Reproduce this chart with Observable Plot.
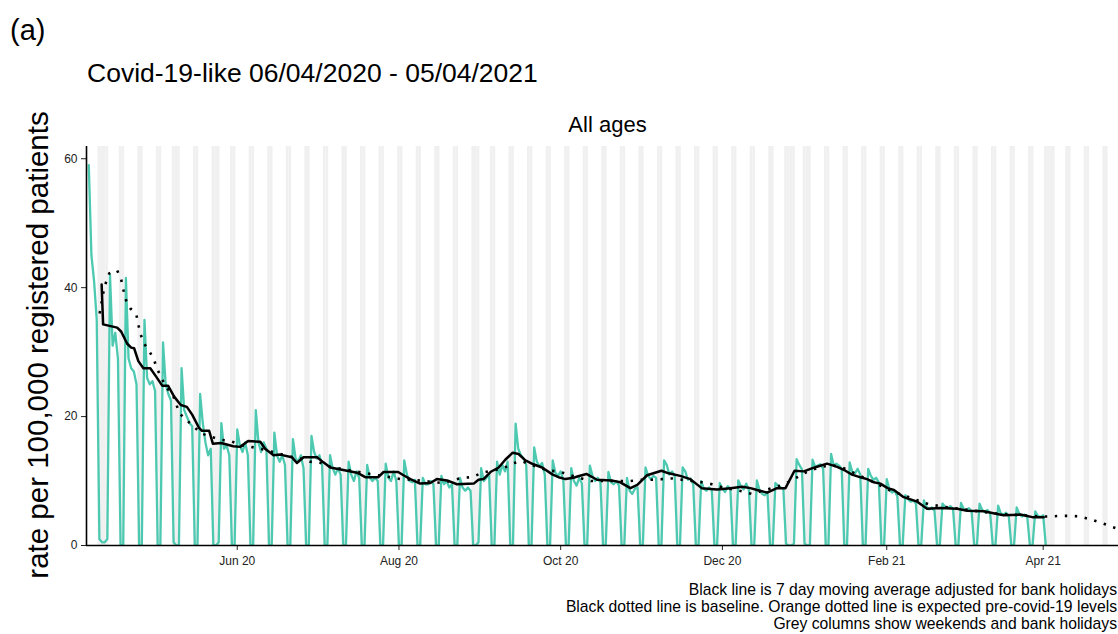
<!DOCTYPE html>
<html>
<head>
<meta charset="utf-8">
<script src="https://cdn.jsdelivr.net/npm/d3@7"></script>
<script src="https://cdn.jsdelivr.net/npm/@observablehq/plot@0.6"></script>
<style>
html,body{margin:0;padding:0;background:#fff;overflow:hidden;}
#wrap{position:relative;width:1118px;height:634px;overflow:hidden;font-family:"Liberation Sans",Arial,sans-serif;color:#000;background:#fff;}
.abs{position:absolute;white-space:nowrap;line-height:1;}
#chart{left:0;top:0;}
#tag{left:10px;top:16px;font-size:29px;}
#title{left:87px;top:60px;font-size:26.5px;}
#strip{left:607.5px;top:125px;font-size:22px;transform:translate(-50%,-50%);}
#ylab{left:38px;top:345px;font-size:29.5px;transform:translate(-50%,-50%) rotate(-90deg);}
#cap{right:1px;top:581px;font-size:15.7px;line-height:17px;text-align:right;}
</style>
</head>
<body>
<div id="wrap">
  <div id="chart" class="abs"></div>
  <div id="tag" class="abs">(a)</div>
  <div id="title" class="abs">Covid-19-like 06/04/2020 - 05/04/2021</div>
  <div id="strip" class="abs">All ages</div>
  <div id="ylab" class="abs">rate per 100,000 registered patients</div>
  <div id="cap" class="abs">Black line is 7 day moving average adjusted for bank holidays<br>Black dotted line is baseline. Orange dotted line is expected pre-covid-19 levels<br>Grey columns show weekends and bank holidays</div>
</div>
<script>
// ---- data -------------------------------------------------------------
const seriesStart = "2020-04-06"; // first day of the daily series (Monday)

// daily rate per 100,000 (Mon..Sun each row), 06/04/2020 - 02/04/2021
const dailyRate = [
  59,45,41,35,1,0.5,0.5,        // Apr 6
  1,42,31,33,29,0,0,            // Apr 13
  41.5,29,27.5,27,25,0,0,       // Apr 20
  35,26,25,25.5,24,0,0,         // Apr 27
  31.5,25,23.5,22.5,0.5,0,0,    // May 4
  27.5,21,20,19,18.5,0,0,       // May 11
  23.5,19,16,14,15,0,0,         // May 18
  0.5,19,15,15.5,14,0,0,        // May 25
  18,15.5,14.5,16,14,0,0,       // Jun 1
  21,16,14.5,16,15,0,0,         // Jun 8
  17.5,14,13,14,12.5,0,0,       // Jun 15
  16.5,13.5,13,14,12,0,0,       // Jun 22
  17,14.5,13.5,14,12.5,0,0,     // Jun 29
  14,12,11,12,11,0,0,           // Jul 6
  13,11,10,11.5,10.5,0,0,       // Jul 13
  12.5,10.5,10,10.5,10,0,0,     // Jul 20
  12.7,10.5,10,11.5,10,0,0,     // Jul 27
  13.2,11,10,9.8,10.2,0,0,      // Aug 3
  10.5,9.5,9.5,10,9.5,0,0,      // Aug 10
  10.8,9.5,10,9,9.5,0,0,        // Aug 17
  10.5,9,8.5,9,8.5,0,0,         // Aug 24
  0.5,12,10,10.5,11,0,0,        // Aug 31
  13,11,12.5,11.5,13,0,0,       // Sep 7
  18.9,15,14,13.5,12.5,0,0,     // Sep 14
  15.2,13,12.3,12.8,11,0,0,     // Sep 21
  13.2,11.3,10.8,11.5,10.2,0,0, // Sep 28
  12,10,9.3,10.5,9.6,0,0,       // Oct 5
  12.4,10.8,10,10.5,9.8,0,0,    // Oct 12
  11.4,9.8,9.5,10,9.3,0,0,      // Oct 19
  10.5,8.5,8,8.8,9,0,0,         // Oct 26
  12.1,10.8,10.3,10.8,10.5,0,0, // Nov 2
  13.2,12.5,11,11.5,10.8,0,0,   // Nov 9
  12.1,11.5,10.2,10.4,9.5,0,0,  // Nov 16
  10,8.8,8.5,9,8.6,0,0,         // Nov 23
  9.7,8.8,8.3,9.2,8.8,0,0,      // Nov 30
  10.1,9.2,8.7,9.6,8.6,0,0,     // Dec 7
  10.1,8.6,8,7.8,8.3,0,0,       // Dec 14
  9.7,9.3,9,8.8,0.3,0,0,        // Dec 21
  0.3,13.4,12.5,11.8,0.3,0,0,   // Dec 28
  13.3,12.2,12.4,12.6,11.9,0,0, // Jan 4
  14.2,12.4,12.7,12.4,11.9,0,0, // Jan 11
  12.9,11.4,11.2,11.9,11,0,0,   // Jan 18
  11.9,10.8,10.2,10.5,9.8,0,0,  // Jan 25
  10.3,8.7,8.2,8.5,7.6,0,0,     // Feb 1
  7.8,7.2,6.8,7,6.5,0,0,        // Feb 8
  7,6,5.6,5.9,5.4,0,0,          // Feb 15
  6.5,6,5.8,6.1,5.7,0,0,        // Feb 22
  6.6,5.7,5.5,5.8,5.3,0,0,      // Mar 1
  6.5,5.5,5.2,5.5,5,0,0,        // Mar 8
  6.2,5,4.8,5.1,4.6,0,0,        // Mar 15
  5.9,4.9,4.5,4.8,4.4,0,0,      // Mar 22
  5.3,4.6,4.4,4.7,0             // Mar 29
];

// 7 day moving average (day offset from seriesStart, value)
const maDay = [4.85,5.4,10.7,12.2,14.5,16.0,17.1,18.7,20.6,23.2,25.4,27.7,29.9,32.2,34.7,37.0,39.0,41.5,42.7,45.4,46.8,49.9,54.5,57.1,60.1,64.7,66.5,69.7,72.2,76.6,78.5,81.0,86.1,88.5,91.1,97.4,101.2,104.3,109.2,111.2,116.7,118.7,121.3,125.0,128.8,131.3,135.1,138.9,145.2,147.0,148.9,151.5,154.6,157.1,159.9,162.1,164.7,167.7,171.0,175.0,177.2,179.8,182.8,184.3,187.7,191.7,197.1,200.5,204.3,206.9,210.6,216.0,218.7,223.1,226.9,231.2,237.0,242.0,246.5,249.6,252.1,255.9,259.6,262.8,266.2,269.7,273.0,275.3,278.5,282.3,285.4,287.9,291.7,293.6,296.1,298.6,301.3,303.7,307.4,312.5,316.2,321.3,327.6,331.3,337.6,342.6,345.1,351.4,355.9,360.2];
const maValue = [40.5,34.3,33.8,33.2,31.3,30.7,30.6,28.6,27.5,27.5,26.2,24.8,24.8,23.1,21.8,21.5,20.3,18.3,17.8,17.8,15.8,15.9,15.4,15.3,16.2,16.1,15.0,14.0,14.1,13.7,12.8,13.7,13.7,12.9,12.1,11.6,11.3,10.6,10.6,11.4,11.4,10.9,10.3,9.6,9.7,10.3,10.1,9.5,9.6,10.2,10.3,11.4,12.1,13.3,14.4,14.2,13.2,12.6,12.1,11.0,10.6,10.3,10.5,10.7,11.1,10.2,10.1,9.8,8.9,9.4,10.9,11.6,11.2,10.8,10.3,8.9,8.7,8.9,9.1,8.9,8.6,8.2,8.9,8.9,11.6,11.5,12.0,12.3,12.7,12.2,11.6,11.0,10.5,10.3,9.8,9.6,8.9,8.6,7.5,6.8,5.7,5.8,5.7,5.4,5.3,4.9,4.7,4.8,4.4,4.4];

// baseline (day offset from seriesStart, value)
const baseDay = [4.1,5.6,6.4,7.7,10.7,12.2,13.1,14.1,15.6,17.9,18.8,19.6,20.9,22.9,24.5,25.9,29.2,31.6,33.0,34.2,36.7,39.5,42.3,49.6,53.6,57.1,61.2,64.9,72.2,76.0,79.8,83.5,87.6,91.1,106.2,113.7,117.8,121.9,133.2,140.8,144.8,148.3,156.5,159.6,163.2,170.3,174.4,178.1,181.6,189.4,204.3,208.1,212.1,216.2,220.0,231.3,235.1,239.3,246.4,250.2,260.9,264.7,270.3,276.0,280.9,284.8,295.2,298.6,302.4,316.8,324.4,343.3,359.0,362.8,366.5,370.3,374.1,378.2,382.0,385.6,391.1];
const baseValue = [36.0,39.5,40.7,42.2,42.7,41.3,39.6,38.0,36.8,35.9,34.1,32.7,31.3,30.1,28.9,27.3,24.5,23.5,21.9,20.5,19.5,18.5,17.4,16.4,16.2,15.6,15.3,15.0,14.2,13.8,13.5,13.0,12.8,12.2,11.1,10.6,10.3,10.2,9.7,10.5,10.6,11.3,12.0,12.7,13.1,12.0,11.6,11.4,10.9,10.0,10.0,10.2,10.2,10.3,10.4,9.8,9.5,9.0,8.4,8.0,9.3,10.0,11.3,12.2,12.4,12.0,10.0,9.3,8.5,6.4,5.9,4.9,4.5,4.5,4.6,4.6,4.5,4.0,3.5,2.95,2.2];

// grey columns: bank holidays (weekends are added from the calendar)
const bankHolidays = ["2020-04-10","2020-04-13","2020-05-08","2020-05-25","2020-08-31","2020-12-25","2020-12-28","2021-01-01","2021-04-02","2021-04-05","2021-05-03"];
const weekendSpan = ["2020-04-11","2021-05-09"];

// axis
const xDomain = ["2020-04-05T03:20:00Z","2021-05-03T13:30:00Z"];
const xTicks = ["2020-06-01","2020-08-01","2020-10-01","2020-12-01","2021-02-01","2021-04-01"];
const yTicks = [0,20,40,60];
const yMax = 61.9;

// ---- build --------------------------------------------------------------
const DAY = 864e5;
const t0 = new Date(seriesStart + "T00:00:00Z").getTime();
const atDay = d => new Date(t0 + d * DAY);

const rateData = dailyRate.map((v, i) => ({date: atDay(i), value: v}));
const maData = maDay.map((d, i) => ({date: atDay(d), value: maValue[i]}));
const baseData = baseDay.map((d, i) => ({date: atDay(d), value: baseValue[i]}));

const greyDays = d3.utcDay.range(new Date(weekendSpan[0] + "T00:00:00Z"), new Date(weekendSpan[1] + "T23:00:00Z"))
  .filter(d => d.getUTCDay() === 0 || d.getUTCDay() === 6)
  .concat(bankHolidays.map(s => new Date(s + "T00:00:00Z")));
const greyData = greyDays.map(d => ({x1: new Date(+d - DAY / 2), x2: new Date(+d + DAY / 2)}));

const monthFmt = d3.utcFormat("%b %y");

const chart = Plot.plot({
  width: 1140,
  height: 580,
  marginLeft: 86,
  marginRight: 11,
  marginTop: 146,
  marginBottom: 35,
  style: {fontFamily: '"Liberation Sans", Arial, sans-serif', fontSize: "12px", color: "#222", background: "transparent", maxWidth: "none", overflow: "visible"},
  x: {type: "utc", domain: xDomain.map(s => new Date(s)), ticks: xTicks.map(s => new Date(s + "T00:00:00Z")), tickFormat: monthFmt, tickSize: 5, tickPadding: 6, label: null},
  y: {domain: [0, yMax], ticks: yTicks, tickSize: 5, tickPadding: 4, label: null},
  marks: [
    Plot.rect(greyData, {x1: "x1", x2: "x2", fill: "#f0f0f0", clip: true}),
    Plot.line(rateData, {x: "date", y: "value", stroke: "#4cc9b0", strokeWidth: 2.3, clip: true}),
    Plot.line(maData, {x: "date", y: "value", stroke: "#000", strokeWidth: 2.5, clip: true}),
    Plot.line(baseData, {x: "date", y: "value", stroke: "#000", strokeWidth: 2.6, strokeDasharray: "2.4,7.6", strokeLinecap: "butt", clip: true}),
    Plot.ruleX([new Date(xDomain[0])], {stroke: "#000", strokeWidth: 1.6}),
    Plot.ruleY([0], {stroke: "#000", strokeWidth: 1.6})
  ]
});
document.getElementById("chart").appendChild(chart);
</script>
</body>
</html>
